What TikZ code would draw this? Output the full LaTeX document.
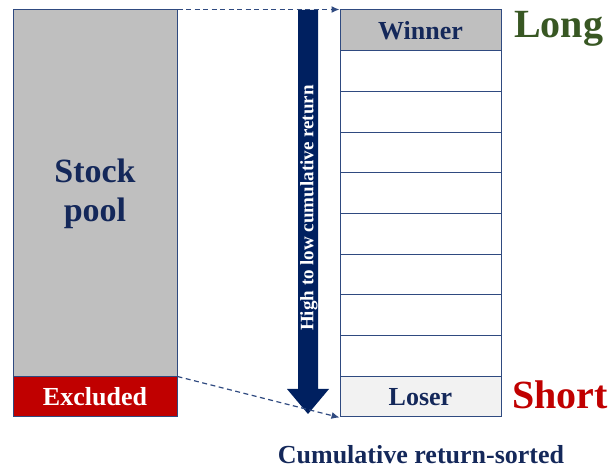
\documentclass[tikz,border=0pt]{standalone}
\usepackage{fontspec}
\setmainfont{Liberation Serif}
\usetikzlibrary{arrows.meta}
\definecolor{navy}{HTML}{002060}
\definecolor{txtnavy}{HTML}{14285A}
\definecolor{edge}{HTML}{2F4A80}
\definecolor{poolgray}{HTML}{BFBFBF}
\definecolor{exred}{HTML}{C00000}
\definecolor{losergray}{HTML}{F2F2F2}
\definecolor{longgreen}{HTML}{385723}
\tikzset{
  cell/.style={draw=edge, line width=1pt, minimum width=161pt, minimum height=40.7pt, inner sep=0pt, fill=white},
  celltext/.style={font=\fontsize{26}{30}\selectfont\bfseries, text=txtnavy},
  conn/.style={draw=edge, line width=1.2pt, dash pattern=on 5pt off 3.5pt, -{Latex[length=8pt,width=7pt]}},
  side/.style={font=\fontsize{40}{46}\selectfont\bfseries, anchor=west, inner sep=0pt}
}
\begin{document}
\begin{tikzpicture}[x=1pt,y=-1pt]
\useasboundingbox (0,0) rectangle (611,470);
% left column
\node[draw=edge, line width=1pt, fill=poolgray, minimum width=164pt, minimum height=367pt, inner sep=0pt,
      celltext, font=\fontsize{34}{39}\selectfont\bfseries, align=center] (pool) at (95,193.5) {Stock\\pool};
\node[draw=edge, line width=1pt, fill=exred, minimum width=164pt, minimum height=40pt, inner sep=0pt,
      font=\fontsize{26}{30}\selectfont\bfseries, text=white] (excl) at (95,397) {Excluded};
% right column
\node[cell, fill=poolgray, celltext] (r1) at (420.5,30.35) {Winner};
\node[cell] (r2) at (420.5,71.05) {};
\node[cell] (r3) at (420.5,111.75) {};
\node[cell] (r4) at (420.5,152.45) {};
\node[cell] (r5) at (420.5,193.15) {};
\node[cell] (r6) at (420.5,233.85) {};
\node[cell] (r7) at (420.5,274.55) {};
\node[cell] (r8) at (420.5,315.25) {};
\node[cell] (r9) at (420.5,355.95) {};
\node[cell, fill=losergray, celltext] (r10) at (420.5,396.65) {Loser};
% sort arrow
\fill[navy] (298,10) -- (318,10) -- (318,389) -- (329,389) -- (308,414) -- (287,389) -- (298,389) -- cycle;
\node[rotate=90, text=white, font=\fontsize{19}{22}\selectfont\bfseries, inner sep=0pt] (sortlbl) at (309,208) {High to low cumulative return};
% side labels
\node[side, text=longgreen] (long) at (514,29) {Long};
\node[side, text=exred] (short) at (512,395) {Short};
\node[font=\fontsize{26}{30}\selectfont\bfseries, text=txtnavy] (caption) at (421,455) {Cumulative return-sorted};
% connectors
\draw[conn] (pool.north east) -- (r1.north west);
\draw[conn] (excl.north east) -- (r10.south west);
\end{tikzpicture}
\end{document}
